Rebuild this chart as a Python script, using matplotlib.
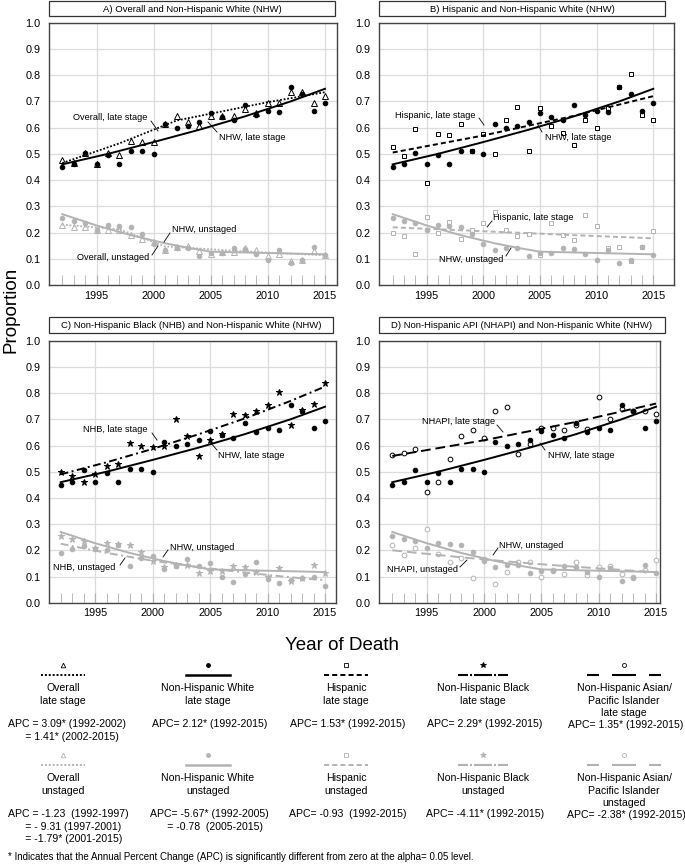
import numpy as np
import matplotlib
matplotlib.use("Agg")
import matplotlib.pyplot as plt
from matplotlib.patches import Rectangle

plt.rcParams['font.family'] = ['Liberation Sans', 'DejaVu Sans']

years = list(range(1992, 2016))

nhw_late = [0.45, 0.46, 0.505, 0.46, 0.495, 0.46, 0.51, 0.51, 0.50, 0.615, 0.60, 0.605,
            0.62, 0.655, 0.64, 0.63, 0.685, 0.65, 0.665, 0.66, 0.755, 0.73, 0.665, 0.695]
nhw_unst = [0.255, 0.245, 0.235, 0.208, 0.228, 0.225, 0.221, 0.194, 0.158, 0.135, 0.142, 0.142,
            0.112, 0.122, 0.122, 0.140, 0.137, 0.117, 0.097, 0.132, 0.083, 0.095, 0.143, 0.115]
overall_late = [0.475, 0.465, 0.505, 0.46, 0.505, 0.495, 0.55, 0.545, 0.545, 0.615, 0.645, 0.62,
                0.605, 0.645, 0.645, 0.645, 0.67, 0.655, 0.695, 0.695, 0.735, 0.735, 0.695, 0.72]
overall_unst = [0.23, 0.22, 0.22, 0.21, 0.21, 0.21, 0.19, 0.175, 0.165, 0.135, 0.145, 0.15,
                0.13, 0.12, 0.125, 0.125, 0.14, 0.135, 0.11, 0.12, 0.09, 0.095, 0.13, 0.115]
hisp_late = [0.525, 0.49, 0.595, 0.39, 0.575, 0.57, 0.615, 0.51, 0.575, 0.50, 0.63, 0.68,
             0.51, 0.675, 0.605, 0.58, 0.535, 0.63, 0.60, 0.675, 0.755, 0.805, 0.65, 0.63]
hisp_unst = [0.20, 0.185, 0.12, 0.26, 0.20, 0.24, 0.175, 0.21, 0.235, 0.28, 0.21, 0.185,
             0.195, 0.115, 0.235, 0.19, 0.17, 0.265, 0.225, 0.14, 0.145, 0.09, 0.145, 0.205]
nhb_late = [0.50, 0.485, 0.46, 0.49, 0.52, 0.53, 0.61, 0.60, 0.595, 0.60, 0.70, 0.635,
            0.56, 0.62, 0.645, 0.72, 0.715, 0.73, 0.755, 0.805, 0.68, 0.735, 0.76, 0.84]
nhb_unst = [0.19, 0.205, 0.215, 0.205, 0.20, 0.22, 0.14, 0.17, 0.18, 0.13, 0.14, 0.165,
            0.14, 0.15, 0.10, 0.08, 0.11, 0.155, 0.09, 0.075, 0.085, 0.095, 0.10, 0.065]
nhapi_late = [0.562, 0.57, 0.586, 0.424, 0.459, 0.549, 0.638, 0.66, 0.628, 0.732, 0.746, 0.568,
              0.606, 0.665, 0.665, 0.658, 0.678, 0.662, 0.785, 0.70, 0.74, 0.733, 0.733, 0.722]
nhapi_unst = [0.22, 0.183, 0.21, 0.28, 0.185, 0.156, 0.17, 0.095, 0.165, 0.073, 0.116, 0.156,
              0.157, 0.10, 0.126, 0.11, 0.154, 0.106, 0.137, 0.14, 0.11, 0.10, 0.125, 0.162]

# joinpoint trend lines (values read at a few years)
nhw_late_fit = ([1992, 1996, 2000, 2004, 2008, 2012, 2015], [0.46, 0.50, 0.545, 0.592, 0.643, 0.70, 0.748])
nhw_unst_fit = ([1992, 1995, 1998, 2001, 2003, 2005, 2010, 2015], [0.27, 0.227, 0.19, 0.159, 0.142, 0.127, 0.122, 0.117])
overall_late_fit = ([1992, 1997, 2002, 2006, 2010, 2015], [0.465, 0.54, 0.627, 0.662, 0.697, 0.735])
overall_unst_fit = ([1992, 1997, 2001, 2008, 2015], [0.23, 0.212, 0.147, 0.128, 0.113])
hisp_late_fit = ([1992, 2000, 2008, 2015], [0.505, 0.57, 0.645, 0.72])
hisp_unst_fit = ([1992, 2000, 2008, 2015], [0.22, 0.205, 0.19, 0.178])
nhb_late_fit = ([1992, 1996, 2000, 2004, 2008, 2012, 2015], [0.49, 0.536, 0.587, 0.643, 0.703, 0.77, 0.825])
nhb_unst_fit = ([1992, 1996, 2000, 2004, 2008, 2012, 2015], [0.225, 0.19, 0.16, 0.136, 0.115, 0.097, 0.086])
nhapi_late_fit = ([1992, 2000, 2008, 2015], [0.56, 0.62, 0.69, 0.76])
nhapi_unst_fit = ([1992, 1996, 2000, 2004, 2008, 2012, 2015], [0.20, 0.182, 0.165, 0.15, 0.137, 0.125, 0.116])

panel_titles = ["A) Overall and Non-Hispanic White (NHW)",
                "B) Hispanic and Non-Hispanic White (NHW)",
                "C) Non-Hispanic Black (NHB) and Non-Hispanic White (NHW)",
                "D) Non-Hispanic API (NHAPI) and Non-Hispanic White (NHW)"]

W, H = 685, 867
BLACK = 'black'
GRAY = '#b3b3b3'

# line styles per group
LS = {'nhw': '-', 'overall': (0, (1, 1)), 'hisp': (0, (2.6, 1.6)),
      'nhb': (0, (4, 1.8, 1, 1.8)), 'nhapi': (0, (5, 2.5))}
MK = {'nhw': dict(marker='o', ms=3.3, filled=True), 'overall': dict(marker='^', ms=3.9, filled=False),
      'hisp': dict(marker='s', ms=3.3, filled=False), 'nhb': dict(marker='*', ms=4.6, filled=True),
      'nhapi': dict(marker='o', ms=3.4, filled=False)}


def frac(l, t, r, b):
    return [l / W, 1 - b / H, (r - l) / W, (b - t) / H]


def scatter(ax, x, y, kind, color, z=3):
    m = MK[kind]
    face = color if m['filled'] else 'white'
    ax.plot(x, y, ls='none', marker=m['marker'], ms=m['ms'], mfc=face, mec=color,
            mew=0.7, zorder=z)


def trend(ax, fit, kind, color, lw=1.4):
    ax.plot(fit[0], fit[1], color=color, ls=LS[kind], lw=lw, zorder=4)


fig = plt.figure(figsize=(W / 100, H / 100), dpi=100)

# pixel layout: (left, top, right, bottom, x of 1992, x of 2015)
layout = [(49, 22.7, 337, 285, 62.3, 325.0),
          (379, 22.7, 674, 285, 392.7, 653.3),
          (49, 340.7, 336, 602.7, 60.7, 325.0),
          (379, 340.7, 660, 602.7, 392.3, 656.0)]

axes = []
for (l, t, r, b, x0, x1) in layout:
    ax = fig.add_axes(frac(l, t, r, b))
    py = (x1 - x0) / 23
    ax.set_xlim(1992 - (x0 - l) / py, 2015 + (r - x1) / py)
    ax.set_ylim(0, 1.0)
    ax.set_yticks(np.arange(0, 1.01, 0.1))
    ax.set_yticklabels([f"{v:.1f}" for v in np.arange(0, 1.01, 0.1)])
    ax.set_xticks([1995, 2000, 2005, 2010, 2015])
    ax.set_xticks(years, minor=True)
    ax.grid(True, color='#dcdcdc', lw=0.9, zorder=0)
    ax.tick_params(axis='x', which='both', direction='in', length=7, color='#b0b0b0',
                   labelsize=7.8, pad=4)
    ax.tick_params(axis='y', length=0, labelsize=7.8, pad=6)
    for s in ax.spines.values():
        s.set_color('#444444')
        s.set_linewidth(1.0)
    axes.append(ax)

axA, axB, axC, axD = axes

# A) overall vs NHW
scatter(axA, years, overall_unst, 'overall', GRAY)
scatter(axA, years, nhw_unst, 'nhw', GRAY)
scatter(axA, years, overall_late, 'overall', BLACK)
scatter(axA, years, nhw_late, 'nhw', BLACK)
trend(axA, overall_unst_fit, 'overall', GRAY, 1.3)
trend(axA, nhw_unst_fit, 'nhw', GRAY)
trend(axA, overall_late_fit, 'overall', BLACK, 1.3)
trend(axA, nhw_late_fit, 'nhw', BLACK)

# B) Hispanic vs NHW
scatter(axB, years, hisp_unst, 'hisp', GRAY)
scatter(axB, years, nhw_unst, 'nhw', GRAY)
scatter(axB, years, hisp_late, 'hisp', BLACK)
scatter(axB, years, nhw_late, 'nhw', BLACK)
trend(axB, hisp_unst_fit, 'hisp', GRAY)
trend(axB, nhw_unst_fit, 'nhw', GRAY)
trend(axB, hisp_late_fit, 'hisp', BLACK)
trend(axB, nhw_late_fit, 'nhw', BLACK)

# C) NHB vs NHW (unstaged markers appear swapped in the original)
scatter(axC, years, nhw_unst, 'nhb', GRAY)
scatter(axC, years, nhb_unst, 'nhw', GRAY)
scatter(axC, years, nhb_late, 'nhb', BLACK)
scatter(axC, years, nhw_late, 'nhw', BLACK)
trend(axC, nhb_unst_fit, 'nhb', GRAY)
trend(axC, nhw_unst_fit, 'nhw', GRAY)
trend(axC, nhb_late_fit, 'nhb', BLACK)
trend(axC, nhw_late_fit, 'nhw', BLACK)

# D) NHAPI vs NHW
scatter(axD, years, nhapi_unst, 'nhapi', GRAY)
scatter(axD, years, nhw_unst, 'nhw', GRAY)
scatter(axD, years, nhapi_late, 'nhapi', BLACK)
scatter(axD, years, nhw_late, 'nhw', BLACK)
trend(axD, nhapi_unst_fit, 'nhapi', GRAY)
trend(axD, nhw_unst_fit, 'nhw', GRAY)
trend(axD, nhapi_late_fit, 'nhapi', BLACK)
trend(axD, nhw_late_fit, 'nhw', BLACK)

# overlay in pixel coordinates for boxes, labels and the key
ov = fig.add_axes([0, 0, 1, 1])
ov.set_xlim(0, W)
ov.set_ylim(H, 0)
ov.axis('off')
ov.patch.set_alpha(0)

title_boxes = [(49, 1, 335, 16), (379, 1, 665, 16), (49, 317, 333, 333), (379, 317, 665, 333)]
for (l, t, r, b), s in zip(title_boxes, panel_titles):
    ov.add_patch(Rectangle((l, t), r - l, b - t, fill=False, ec='#333333', lw=0.9))
    ov.text((l + r) / 2, (t + b) / 2 + 0.5, s, ha='center', va='center', fontsize=6.8)

# curve labels: text, x, y, leader line
labels = [("Overall, late stage", 73, 118, (151, 121, 158, 131)),
          ("NHW, late stage", 219, 138, (217, 132, 208, 122)),
          ("NHW, unstaged", 172, 230, (170, 233, 164, 242)),
          ("Overall, unstaged", 77, 257, (152, 255, 158, 246)),
          ("Hispanic, late stage", 395, 116, (479, 118, 484, 125)),
          ("NHW, late stage", 545, 137, (542, 132, 538, 125)),
          ("Hispanic, late stage", 493, 218, (492, 221, 487, 227)),
          ("NHW, unstaged", 439, 259, (506, 256, 511, 248)),
          ("NHB, late stage", 83, 429, (152, 433, 157, 440)),
          ("NHW, late stage", 218, 455, (217, 450, 210, 442)),
          ("NHW, unstaged", 170, 547, (168, 550, 163, 557)),
          ("NHB, unstaged", 53, 568, (120, 565, 125, 558)),
          ("NHAPI, late stage", 422, 422, (497, 425, 503, 432)),
          ("NHW, late stage", 548, 455, (545, 450, 540, 443)),
          ("NHW, unstaged", 499, 545, (498, 548, 493, 555)),
          ("NHAPI, unstaged", 387, 569, (460, 567, 467, 560))]
for s, x, y, (x1, y1, x2, y2) in labels:
    ov.text(x, y, s, ha='left', va='center', fontsize=6.6)
    ov.plot([x1, x2], [y1, y2], color='black', lw=0.6)

ov.text(11, 310, "Proportion", rotation=90, ha='center', va='center', fontsize=13.5)
ov.text(342, 645, "Year of Death", ha='center', va='center', fontsize=13.5)

# key table
key_cols = [63, 208, 346, 483, 624]
key_kinds = ['overall', 'nhw', 'hisp', 'nhb', 'nhapi']
key_names_late = [["Overall", "late stage"], ["Non-Hispanic White", "late stage"],
                  ["Hispanic", "late stage"], ["Non-Hispanic Black", "late stage"],
                  ["Non-Hispanic Asian/", "Pacific Islander", "late stage"]]
key_names_unst = [["Overall", "unstaged"], ["Non-Hispanic White", "unstaged"],
                  ["Hispanic", "unstaged"], ["Non-Hispanic Black", "unstaged"],
                  ["Non-Hispanic Asian/", "Pacific Islander", "unstaged"]]
apc_late = [["APC = 3.09* (1992-2002)", "      = 1.41* (2002-2015)"],
            ["APC= 2.12* (1992-2015)"], ["APC= 1.53* (1992-2015)"],
            ["APC= 2.29* (1992-2015)"], ["APC= 1.35* (1992-2015)"]]
apc_unst = [["APC = -1.23  (1992-1997)", "      = - 9.31 (1997-2001)", "      = -1.79* (2001-2015)"],
            ["APC= -5.67* (1992-2005)", "      = -0.78  (2005-2015)"],
            ["APC= -0.93  (1992-2015)"], ["APC= -4.11* (1992-2015)"], ["APC= -2.38* (1992-2015)"]]

fs = 7.6
for row, (color, names, apcs, y0) in enumerate([(BLACK, key_names_late, apc_late, 665),
                                                  (GRAY, key_names_unst, apc_unst, 755)]):
    for cx, kind, nm, ap in zip(key_cols, key_kinds, names, apcs):
        m = MK[kind]
        ov.plot([cx], [y0], ls='none', marker=m['marker'], ms=m['ms'] * 0.85,
                mfc=color if m['filled'] else 'white', mec=color, mew=0.6)
        ly = y0 + 10
        if kind == 'nhapi':
            # short - long - short dashes
            for a, b in [(-37, -25), (-12, 12), (25, 37)]:
                ov.plot([cx + a, cx + b], [ly, ly], color=color, lw=1.5, solid_capstyle='butt')
        elif kind == 'nhb':
            for a, b in [(-25, -15), (-9, 9), (15, 25)]:
                ov.plot([cx + a, cx + b], [ly, ly], color=color, lw=1.5, solid_capstyle='butt')
            for d in (-12, 12):
                ov.plot([cx + d - 0.8, cx + d + 0.8], [ly, ly], color=color, lw=1.5,
                        solid_capstyle='butt')
        else:
            ov.plot([cx - 22, cx + 22], [ly, ly], color=color, ls=LS[kind],
                    lw=1.8 if kind == 'nhw' else 1.4)
        for i, s in enumerate(nm):
            ov.text(cx, y0 + 23 + i * 12.5, s, ha='center', va='center', fontsize=fs)
        apc_y = y0 + 59 if len(nm) == 2 else y0 + 60
        for i, s in enumerate(ap):
            if kind == 'overall' or (kind == 'nhw' and len(ap) > 1):
                lx = 8 if kind == 'overall' else 150
                ov.text(lx, apc_y + i * 12.5, s, ha='left', va='center', fontsize=fs)
            else:
                ov.text(cx + 2, apc_y + i * 12.5, s, ha='center', va='center', fontsize=fs)

ov.text(8, 857, "* Indicates that the Annual Percent Change (APC) is significantly different "
        "from zero at the alpha= 0.05 level.", ha='left', va='center', fontsize=7.0)

fig.savefig("out.png", dpi=100)
